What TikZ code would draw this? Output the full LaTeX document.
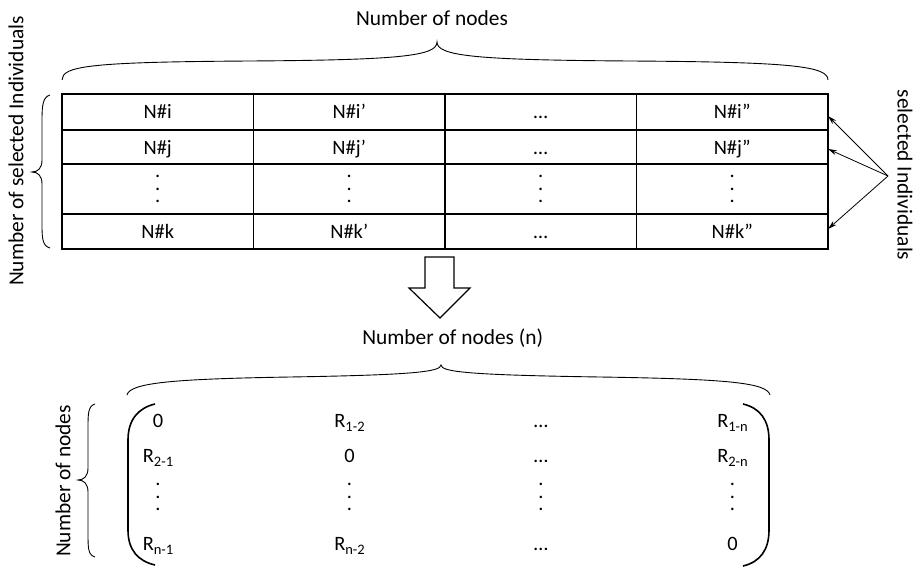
\documentclass[tikz,border=0pt]{standalone}
\usepackage{fontspec}
\setmainfont{Carlito}
\usetikzlibrary{arrows.meta}
\newcommand\vdts{\vbox{\baselineskip=12.5pt\hbox{.}\hbox{.}\hbox{.}}}
\newcommand\rsub[1]{\raisebox{-4.5pt}{\fontsize{14.5}{15}\selectfont #1}}
\begin{document}
\begin{tikzpicture}[x=1pt,y=-1pt,
  cellbase/.style={minimum width=191.5pt, inner sep=0pt, outer sep=0pt, font=\fontsize{20.4}{22}\selectfont},
  cell/.style={cellbase, text height=16pt, text depth=2pt},
  grid/.style={line width=1.2pt},
  lbl/.style={font=\fontsize{21.4}{24}\selectfont, inner sep=0pt},
  mtx/.style={font=\fontsize{20.4}{22}\selectfont, inner sep=0pt, anchor=base},
  mdots/.style={font=\fontsize{20.4}{22}\selectfont, inner sep=0pt, anchor=center},
  brace/.style={line width=0.9pt},
  paren/.style={line width=1.6pt},
  pointer/.style={line width=0.8pt, -{Stealth[length=9pt,width=5pt]}}
]
\useasboundingbox (0,0) rectangle (920,567);

% top label and brace
\node[lbl, anchor=base] (toplbl) at (432,26) {Number of nodes};
\draw[brace] (62,80) .. controls (62,66) and (90,62) .. (250,61) .. controls (400,60) and (437,56) .. (437,42)
  .. controls (437,56) and (475,60) .. (630,61) .. controls (790,62) and (828,66) .. (828,80);

% table cells
\foreach \r/\y/\h/\a/\b/\c/\d in {1/112/36/N\#i/N\#i’/…/N\#i”, 2/147/34/N\#j/N\#j’/…/N\#j”, 4/231.5/35/N\#k/N\#k’/…/N\#k”}{
  \node[cell, minimum height=\h pt] (c\r1) at (157.75,\y) {\a};
  \node[cell, minimum height=\h pt] (c\r2) at (349.25,\y) {\b};
  \node[cell, minimum height=\h pt] (c\r3) at (540.75,\y) {\c};
  \node[cell, minimum height=\h pt] (c\r4) at (732.25,\y) {\d};
}
\foreach \k/\x in {1/157.75, 2/349.25, 3/540.75, 4/732.25}{
  \node[cellbase, minimum height=50pt] (c3\k) at (\x,189) {\vdts};
}
% table grid
\draw[grid] (c11.north west) rectangle (c44.south east);
\foreach \k in {1,2,3}{ \draw[grid] (c1\k.north east) -- (c4\k.south east); }
\foreach \r in {1,2,3}{ \draw[grid] (c\r1.south west) -- (c\r4.south east); }

% left brace and label
\draw[brace] (50,95) .. controls (43,97) and (42,105) .. (42,120) -- (42,160) .. controls (42,168) and (38,172) .. (32,172)
  .. controls (38,172) and (42,176) .. (42,184) -- (42,225) .. controls (42,240) and (43,246) .. (50,248);
\node[lbl, rotate=90] (leftlbl) at (16,151) {Number of selected Individuals};

% right label and pointers
\node[lbl, rotate=-90] (rightlbl) at (905,175) {selected Individuals};
\coordinate (src) at (888,176);
\draw[pointer] (src) -- ([yshift=-4pt]c14.east);
\draw[pointer] (src) -- ([yshift=-2pt]c24.east);
\draw[pointer] (src) -- ([yshift=2.5pt]c44.east);

% block arrow
\draw[line width=1.2pt, fill=white] (425,257) -- (454,257) -- (454,288) -- (470,288) -- (440,318) -- (409,288) -- (425,288) -- cycle;

% bottom label and brace
\node[lbl, anchor=base] (botlbl) at (452.7,344) {Number of nodes (n)};
\draw[brace] (127,395) .. controls (130,383) and (170,379) .. (290,377) .. controls (410,375) and (441,372) .. (441,365)
  .. controls (441,372) and (470,375) .. (600,377) .. controls (730,379) and (767,383) .. (770,395);

% bottom-left brace and label
\draw[brace] (95,404) .. controls (88,406) and (88,414) .. (88,428) -- (88,468) .. controls (88,476) and (84,480) .. (78,480)
  .. controls (84,480) and (88,484) .. (88,492) -- (88,533) .. controls (88,548) and (88,555) .. (95,557);
\node[lbl, rotate=90] (mleftlbl) at (63,481) {Number of nodes};

% matrix parentheses
\draw[paren] (155,404) .. controls (138,408) and (128,420) .. (128,440) -- (128,530) .. controls (128,550) and (138,561) .. (155,565);
\draw[paren] (743,404) .. controls (760,408) and (769,420) .. (769,440) -- (769,530) .. controls (769,550) and (760,562) .. (743,566);

% matrix entries
\node[mtx] (m11) at (158,427) {0};
\node[mtx] (m12) at (349.5,427) {R\rsub{1-2}};
\node[mtx] (m13) at (541,427) {…};
\node[mtx] (m14) at (732.5,427) {R\rsub{1-n}};
\node[mtx] (m21) at (158,462) {R\rsub{2-1}};
\node[mtx] (m22) at (349.5,462) {0};
\node[mtx] (m23) at (541,462) {…};
\node[mtx] (m24) at (732.5,462) {R\rsub{2-n}};
\node[mdots] (m31) at (158,497) {\vdts};
\node[mdots] (m32) at (349.5,497) {\vdts};
\node[mdots] (m33) at (541,497) {\vdts};
\node[mdots] (m34) at (732.5,497) {\vdts};
\node[mtx] (m41) at (158,550) {R\rsub{n-1}};
\node[mtx] (m42) at (349.5,550) {R\rsub{n-2}};
\node[mtx] (m43) at (541,550) {…};
\node[mtx] (m44) at (732.5,550) {0};
\end{tikzpicture}
\end{document}
